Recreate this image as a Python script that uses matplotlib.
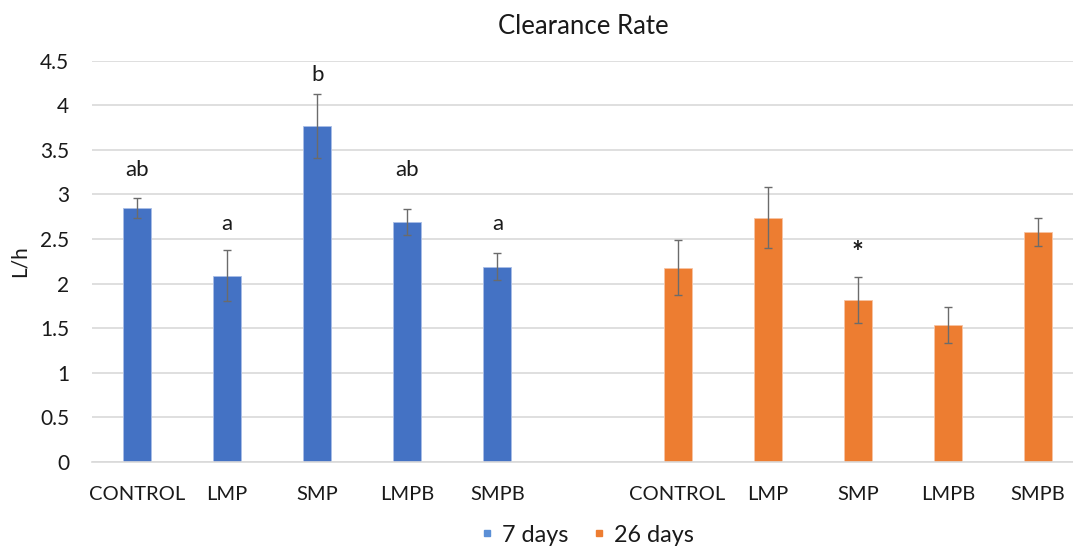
import matplotlib
matplotlib.use("Agg")
import matplotlib.pyplot as plt
from matplotlib.lines import Line2D
import numpy as np

plt.rcParams['font.family'] = ['Lato', 'DejaVu Sans']

groups = ["CONTROL", "LMP", "SMP", "LMPB", "SMPB"]
days7 = [2.85, 2.09, 3.77, 2.69, 2.19]
days7_err = [0.11, 0.29, 0.36, 0.15, 0.15]
days26 = [2.18, 2.74, 1.82, 1.54, 2.58]
days26_err = [0.31, 0.345, 0.26, 0.20, 0.155]
letters7 = ["ab", "a", "b", "ab", "a"]
letters7_y = [3.27, 2.67, 4.34, 3.27, 2.67]
marks26 = ["", "", "*", "", ""]
marks26_y = [0, 0, 2.34, 0, 0]

blue = "#4472C4"
orange = "#ED7D31"
grid_c = "#D9D9D9"
err_c = "#6b6b6b"
text_c = "#1a1a1a"

fig = plt.figure(figsize=(10.73, 5.47), dpi=100)
ax = fig.add_axes([92 / 1073, 1 - 462 / 547, 1 - 92 / 1073, (462 - 60.7) / 547])

x7 = np.arange(len(groups))
x26 = np.arange(len(groups)) + len(groups) + 1
w = 0.31

ax.bar(x7, days7, width=w, color=blue, edgecolor="#a9bde6", linewidth=0.6, zorder=2)
ax.bar(x26, days26, width=w, color=orange, edgecolor="#f7c4a4", linewidth=0.6, zorder=2)
ax.errorbar(x7, days7, yerr=days7_err, fmt="none", ecolor=err_c, elinewidth=1.0,
            capsize=3, capthick=1.0, zorder=3)
ax.errorbar(x26, days26, yerr=days26_err, fmt="none", ecolor=err_c, elinewidth=1.0,
            capsize=3, capthick=1.0, zorder=3)

for xi, lab, yy in zip(x7, letters7, letters7_y):
    ax.text(xi, yy, lab, ha="center", va="center", fontsize=16, color=text_c)
for xi, lab, yy in zip(x26, marks26, marks26_y):
    if lab:
        ax.text(xi, yy, lab, ha="center", va="center", fontsize=20, color=text_c,
                fontweight="bold")

ax.set_xlim(-0.5, (1073 - 137.3) / 90.07)
ax.set_ylim(0, 4.5)
ax.set_yticks(np.arange(0, 4.51, 0.5))
ax.set_yticklabels(["0", "0.5", "1", "1.5", "2", "2.5", "3", "3.5", "4", "4.5"])
ax.set_xticks(list(x7) + list(x26))
ax.set_xticklabels(groups + groups)
ax.tick_params(axis="both", length=0, labelsize=15, colors=text_c)
ax.tick_params(axis="x", labelsize=14.5)
ax.tick_params(axis="y", pad=16.5)
ax.tick_params(axis="x", pad=17)

ax.grid(axis="y", color=grid_c, linewidth=1.2, zorder=0)
ax.set_axisbelow(True)
for s in ["top", "right", "left"]:
    ax.spines[s].set_visible(False)
ax.spines["bottom"].set_color(grid_c)
ax.spines["bottom"].set_linewidth(1.2)

ax.set_ylabel("L/h", fontsize=15, color=text_c)
ax.yaxis.set_label_coords(-62 / 981, 0.5)

fig.text(583 / 1073, 1 - 27 / 547, "Clearance Rate", ha="center", va="center",
         fontsize=18.5, color=text_c)

handles = [Line2D([], [], marker="s", linestyle="none", markersize=5,
                  markerfacecolor=c, markeredgecolor=c) for c in ("#5B8FD6", orange)]
fig.legend(handles, ["7 days", "26 days"], loc="center", bbox_to_anchor=(586 / 1073, 1 - 535 / 547),
           ncol=2, frameon=False, fontsize=16.8, handletextpad=0.25, columnspacing=0.9,
           handlelength=0.8, labelcolor=text_c)

fig.savefig("out.png", dpi=100)
